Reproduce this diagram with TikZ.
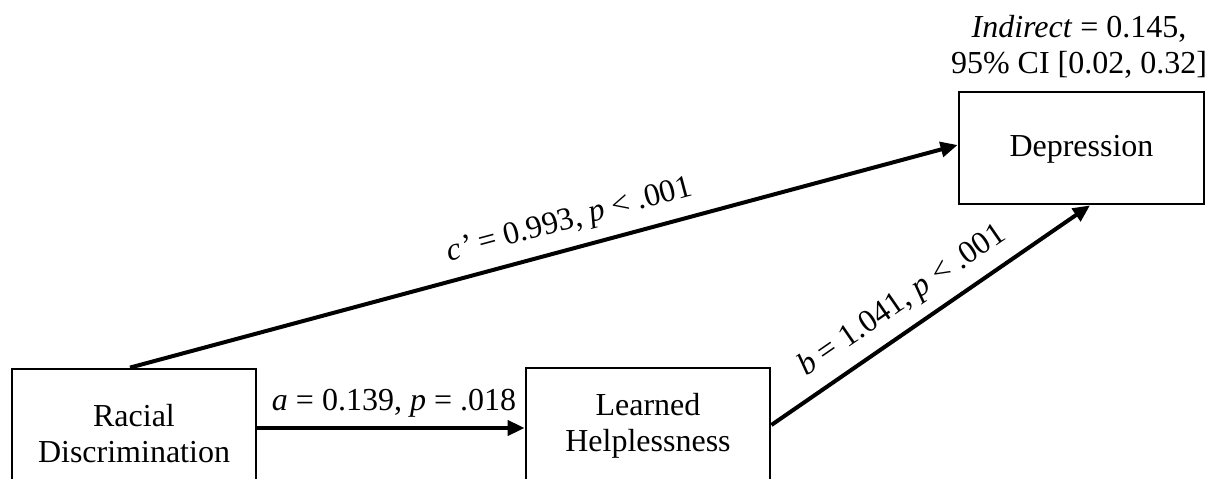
\documentclass[tikz,border=0pt]{standalone}
\usepackage{fontspec}
\setmainfont{Liberation Serif}
\usetikzlibrary{arrows.meta}
\begin{document}
\begin{tikzpicture}[x=1pt,y=-1pt,
  font=\fontsize{32}{36}\selectfont,
  varbox/.style={draw=black, line width=2.8pt, rectangle, align=center, inner sep=0pt},
  path/.style={line width=4pt, -{Triangle[length=17pt,width=15pt]}},
  lbl/.style={sloped, anchor=south, inner sep=11pt}]
\useasboundingbox (0,0) rectangle (1213,479);
\clip (0,0) rectangle (1213,479);
\node[varbox, minimum width=244pt, minimum height=130pt] (rd) at (134,434) {Racial\\Discrimination};
\node[varbox, minimum width=244pt, minimum height=116pt] (lh) at (648,426) {Learned\\Helplessness};
\node[varbox, minimum width=245pt, minimum height=112pt, text height=23pt, text depth=6pt] (dep) at (1081.5,148) {Depression};
\node[anchor=south, align=center, inner sep=0pt] (ind) at (1079,79) {\textit{Indirect} = 0.145,\\95\% CI [0.02, 0.32]};
\draw[path] ([yshift=6pt]rd.east) -- ([yshift=-2pt]lh.west);
\node[anchor=base, inner sep=0pt] (alab) at (394,410) {\textit{a} = 0.139, \textit{p} = .018};
\draw[path] ([xshift=-4pt]rd.north) -- node[lbl, pos=0.54] (clab) {\textit{c’} = 0.993, \textit{p} < .001} ([yshift=3pt]dep.west);
\draw[path] ([yshift=1pt]lh.east) -- node[lbl, pos=0.46] (blab) {\textit{b} = 1.041, \textit{p} < .001} ([xshift=8.5pt]dep.south);
\end{tikzpicture}
\end{document}
